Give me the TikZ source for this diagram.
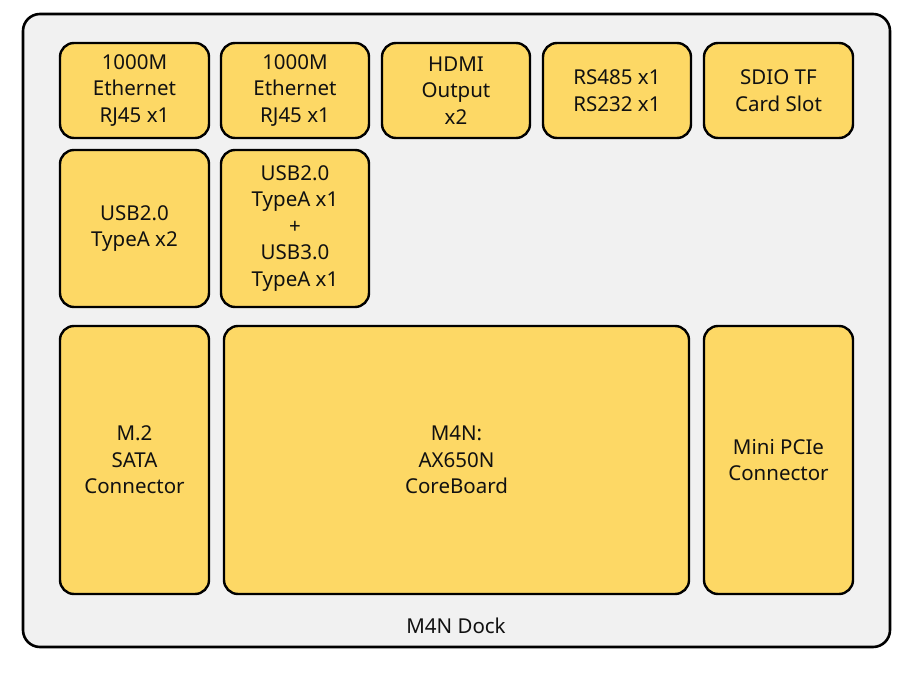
\documentclass[tikz,border=0pt]{standalone}
\usepackage{fontspec}
\setmainfont{Noto Sans}
\definecolor{boxfill}{HTML}{FDD865}
\definecolor{dockfill}{HTML}{F1F1F1}
\definecolor{txt}{HTML}{111111}
\begin{document}
\begin{tikzpicture}[x=1pt,y=-1pt,
  part/.style={draw=black,line width=2.4pt,fill=boxfill,rounded corners=14pt,inner sep=0pt,align=center,text=txt,font=\fontsize{20.5}{26.5}\selectfont},
  dock/.style={draw=black,line width=2.6pt,fill=dockfill,rounded corners=17pt}]
\useasboundingbox (0,0) rectangle (905,676);
\path[dock] (23,14) rectangle (890,647);
\node[font=\fontsize{20.5}{24}\selectfont,text=txt] (dock) at (456,626) {M4N Dock};
% row 1
\node[part,minimum width=149pt,minimum height=95pt] (eth1) at (134.5,90.5) {1000M\\Ethernet\\RJ45 x1};
\node[part,minimum width=148pt,minimum height=95pt] (eth2) at (295,90.5) {1000M\\Ethernet\\RJ45 x1};
\node[part,minimum width=148pt,minimum height=95pt] (hdmi) at (456,90.5) {HDMI\\Output\\x2};
\node[part,minimum width=148pt,minimum height=95pt] (rs) at (617,90.5) {RS485 x1\\RS232 x1};
\node[part,minimum width=149pt,minimum height=95pt] (sd) at (778.5,90.5) {SDIO TF\\Card Slot};
% row 2
\node[part,minimum width=149pt,minimum height=157pt] (usb2) at (134.5,228.5) {USB2.0\\TypeA x2};
\node[part,minimum width=148pt,minimum height=157pt] (usb3) at (295,228.5) {USB2.0\\TypeA x1\\+\\USB3.0\\TypeA x1};
% row 3
\node[part,minimum width=149pt,minimum height=268pt] (m2) at (134.5,460) {M.2\\SATA\\Connector};
\node[part,minimum width=465pt,minimum height=268pt] (core) at (456.5,460) {M4N:\\AX650N\\CoreBoard};
\node[part,minimum width=149pt,minimum height=268pt] (pcie) at (778.5,460) {Mini PCIe\\Connector};
\end{tikzpicture}
\end{document}
